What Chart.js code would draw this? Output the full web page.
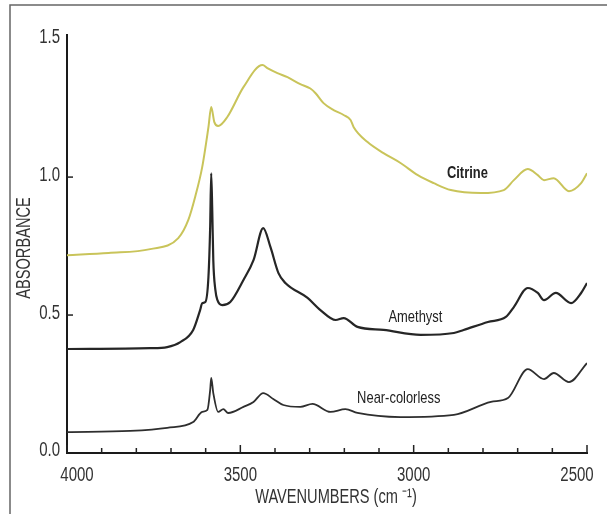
<!DOCTYPE html>
<html>
<head>
<meta charset="utf-8">
<script src="https://cdn.jsdelivr.net/npm/chart.js@4.4.0/dist/chart.umd.min.js"></script>
<style>
  html, body { margin: 0; padding: 0; background: #fff; }
  #wrap { width: 607px; height: 514px; position: relative; }
</style>
</head>
<body>
<div id="wrap"><canvas id="chart"></canvas></div>
<script>
// spectra: wavenumber (cm-1) and absorbance
const citrineWn = [4000, 3880, 3760, 3679, 3650, 3630, 3610, 3592, 3584, 3575, 3564, 3538, 3491, 3436, 3422, 3393, 3364, 3327, 3298, 3283, 3260, 3231, 3202, 3182, 3173, 3133, 3087, 3038, 2988, 2942, 2893, 2806, 2740, 2711, 2671, 2642, 2624, 2596, 2552, 2517, 2500];
const citrineAbs = [0.717, 0.725, 0.739, 0.779, 0.845, 0.930, 1.036, 1.181, 1.254, 1.199, 1.185, 1.217, 1.326, 1.406, 1.395, 1.377, 1.362, 1.337, 1.321, 1.304, 1.268, 1.243, 1.225, 1.207, 1.181, 1.127, 1.087, 1.051, 1.007, 0.978, 0.953, 0.942, 0.953, 0.989, 1.029, 1.007, 0.989, 0.996, 0.949, 0.978, 1.014];

const amethystWn = [4000, 3760, 3711, 3673, 3636, 3616, 3610, 3601, 3592, 3587, 3584, 3581, 3578, 3572, 3566, 3552, 3529, 3491, 3462, 3434, 3413, 3390, 3370, 3306, 3269, 3225, 3202, 3162, 3087, 2980, 2884, 2856, 2786, 2734, 2711, 2671, 2642, 2624, 2590, 2546, 2517, 2500];
const amethystAbs = [0.377, 0.380, 0.384, 0.402, 0.446, 0.518, 0.543, 0.547, 0.638, 0.820, 1.014, 0.880, 0.699, 0.591, 0.554, 0.536, 0.547, 0.627, 0.699, 0.815, 0.746, 0.652, 0.616, 0.562, 0.518, 0.482, 0.489, 0.457, 0.446, 0.428, 0.435, 0.446, 0.475, 0.493, 0.529, 0.598, 0.580, 0.554, 0.580, 0.543, 0.580, 0.616];

const nearWn = [4000, 3818, 3711, 3636, 3610, 3595, 3587, 3584, 3578, 3564, 3549, 3535, 3491, 3462, 3434, 3405, 3376, 3327, 3292, 3240, 3197, 3162, 3038, 2884, 2777, 2728, 2671, 2624, 2596, 2552, 2500];
const nearAbs = [0.076, 0.080, 0.091, 0.112, 0.149, 0.156, 0.228, 0.272, 0.217, 0.149, 0.159, 0.145, 0.167, 0.185, 0.217, 0.196, 0.174, 0.167, 0.178, 0.149, 0.159, 0.145, 0.130, 0.138, 0.185, 0.199, 0.304, 0.268, 0.290, 0.257, 0.326];

const xTicks = [2500, 2600, 2700, 2800, 2900, 3000, 3100, 3200, 3300, 3400, 3500, 3600, 3700, 3800, 3900, 4000];
const yTicks = [0, 0.5, 1.0, 1.5];

const seriesNames = ['Citrine', 'Amethyst', 'Near-colorless'];
// where each name sits, in data units
const nameAt = [[2845, 1.014], [2995, 0.493], [3043, 0.199]];

const FONT = "'Liberation Sans', Arial, sans-serif";

function toPoints(xs, ys) {
  return xs.map((x, i) => ({ x: x, y: ys[i] }));
}

// condensed text, the scan uses a narrow face
function narrowText(ctx, text, x, y, squeeze, align) {
  ctx.save();
  ctx.translate(x, y);
  ctx.scale(squeeze, 1);
  ctx.textAlign = align || 'center';
  ctx.fillText(text, 0, 0);
  ctx.restore();
}

const decor = {
  id: 'decor',
  afterDraw(chart) {
    const ctx = chart.ctx;
    const xs = chart.scales.x;
    const ys = chart.scales.y;
    const area = chart.chartArea;
    ctx.save();

    // scan frame edges
    ctx.strokeStyle = '#666';
    ctx.lineWidth = 1.5;
    ctx.beginPath();
    ctx.moveTo(10, 514);
    ctx.lineTo(10, 5);
    ctx.lineTo(607, 5);
    ctx.stroke();

    // inward ticks
    ctx.strokeStyle = '#222';
    ctx.lineWidth = 1.5;
    xs.ticks.forEach(t => {
      const px = xs.getPixelForValue(t.value);
      const len = t.value % 500 === 0 ? 8 : 5;
      ctx.beginPath();
      ctx.moveTo(px, area.bottom);
      ctx.lineTo(px, area.bottom - len);
      ctx.stroke();
    });
    ys.ticks.forEach(t => {
      if (t.value === 0 || t.value === 1.5) return;
      const py = ys.getPixelForValue(t.value);
      ctx.beginPath();
      ctx.moveTo(area.left, py);
      ctx.lineTo(area.left + 6, py);
      ctx.stroke();
    });

    // tick labels
    ctx.fillStyle = '#333';
    ctx.textBaseline = 'middle';
    ctx.font = '20px ' + FONT;
    xs.ticks.forEach(t => {
      if (t.value % 500 !== 0) return;
      let px = xs.getPixelForValue(t.value);
      px = Math.min(Math.max(px, area.left + 10), area.right - 10);
      narrowText(ctx, String(t.value), px, area.bottom + 22, 0.75);
    });
    ys.ticks.forEach(t => {
      const py = ys.getPixelForValue(t.value) - (t.value === 0 ? 3 : 2);
      narrowText(ctx, t.value.toFixed(1), area.left - 7, py, 0.75, 'right');
    });

    // series names
    ctx.fillStyle = '#222';
    seriesNames.forEach((name, i) => {
      ctx.font = (i === 0 ? 'bold ' : '') + '17px ' + FONT;
      narrowText(ctx, name, xs.getPixelForValue(nameAt[i][0]), ys.getPixelForValue(nameAt[i][1]), 0.76);
    });

    // axis titles
    ctx.font = '20px ' + FONT;
    ctx.fillStyle = '#333';
    narrowText(ctx, 'WAVENUMBERS (cm \u207B\u00B9)', 336, 497, 0.73);
    ctx.translate(24, 248);
    ctx.rotate(-Math.PI / 2);
    narrowText(ctx, 'ABSORBANCE', 0, 0, 0.73);
    ctx.restore();
  }
};

new Chart(document.getElementById('chart'), {
  type: 'line',
  data: {
    datasets: [
      { label: 'Citrine', data: toPoints(citrineWn, citrineAbs), borderColor: '#c9c45a', borderWidth: 2 },
      { label: 'Amethyst', data: toPoints(amethystWn, amethystAbs), borderColor: '#262626', borderWidth: 2.2 },
      { label: 'Near-colorless', data: toPoints(nearWn, nearAbs), borderColor: '#2e2e2e', borderWidth: 1.8 }
    ]
  },
  options: {
    responsive: true,
    maintainAspectRatio: false,
    animation: false,
    layout: { padding: { top: 35, right: 20, left: 0, bottom: 0 } },
    elements: {
      point: { radius: 0 },
      line: { cubicInterpolationMode: 'monotone' }
    },
    plugins: {
      legend: { display: false },
      tooltip: { enabled: false }
    },
    scales: {
      x: {
        type: 'linear',
        reverse: true,
        min: 2500,
        max: 4000,
        afterBuildTicks: s => { s.ticks = xTicks.map(v => ({ value: v })); },
        afterFit: s => { s.height = 61; },
        grid: { display: false, drawTicks: false },
        border: { display: true, color: '#1a1a1a', width: 2 },
        ticks: { display: false }
      },
      y: {
        type: 'linear',
        min: 0,
        max: 1.515,
        afterBuildTicks: s => { s.ticks = yTicks.map(v => ({ value: v })); },
        afterFit: s => { s.width = 67; },
        grid: { display: false, drawTicks: false },
        border: { display: true, color: '#1a1a1a', width: 2 },
        ticks: { display: false }
      }
    }
  },
  plugins: [decor]
});
</script>
</body>
</html>
